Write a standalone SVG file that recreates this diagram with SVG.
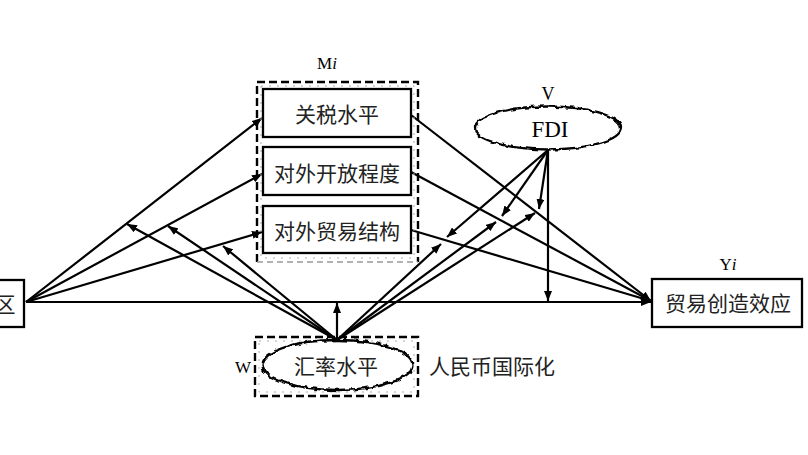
<svg xmlns="http://www.w3.org/2000/svg" width="808" height="455" viewBox="0 0 808 455">
<style>
.box{fill:#fff;stroke:#000;stroke-width:2.3}
.cn{font-family:"Noto Sans CJK SC","Noto Sans",sans-serif;font-size:21px;fill:#222;text-anchor:middle;dominant-baseline:central}
.lat{font-family:"Liberation Serif","Times New Roman",serif;fill:#000;text-anchor:middle}
.ln{stroke:#000;stroke-width:2.2;fill:none}
.dash{stroke:#000;stroke-width:2.4;fill:none;stroke-dasharray:8 4}
.gdot{stroke:#aaa;stroke-width:1;fill:none;stroke-dasharray:2 6}
.gdash{stroke:#999;stroke-width:1.5;fill:none;stroke-dasharray:6 4}
.ell{fill:#fff;stroke:#000;stroke-width:2.3}
</style>
<defs>
<marker id="ah" markerUnits="userSpaceOnUse" markerWidth="10" markerHeight="8" refX="10" refY="4" orient="auto">
<path d="M0,0 L10,4 L0,8 Z" fill="#000"/>
</marker>
<filter id="wavy" x="-10%" y="-30%" width="120%" height="160%">
<feTurbulence type="fractalNoise" baseFrequency="0.2" numOctaves="1" seed="3" result="n"/>
<feDisplacementMap in="SourceGraphic" in2="n" scale="5" xChannelSelector="R" yChannelSelector="G"/>
</filter>
</defs>
<rect width="808" height="455" fill="#fff"/>

<g id="connectors">
<line class="ln" x1="26" y1="302" x2="262" y2="118" marker-end="url(#ah)"/>
<line class="ln" x1="26" y1="302" x2="262" y2="174" marker-end="url(#ah)"/>
<line class="ln" x1="26" y1="302" x2="262" y2="232" marker-end="url(#ah)"/>
<line class="ln" x1="26" y1="302" x2="651" y2="302" marker-end="url(#ah)"/>
<line class="ln" x1="411" y1="115" x2="651" y2="301" marker-end="url(#ah)"/>
<line class="ln" x1="411" y1="172" x2="651" y2="301" marker-end="url(#ah)"/>
<line class="ln" x1="411" y1="230" x2="651" y2="301" marker-end="url(#ah)"/>
<line class="ln" x1="337" y1="340" x2="127" y2="224" marker-end="url(#ah)"/>
<line class="ln" x1="337" y1="340" x2="168" y2="226" marker-end="url(#ah)"/>
<line class="ln" x1="337" y1="340" x2="223" y2="246" marker-end="url(#ah)"/>
<line class="ln" x1="337" y1="340" x2="441" y2="244" marker-end="url(#ah)"/>
<line class="ln" x1="337" y1="340" x2="496" y2="222" marker-end="url(#ah)"/>
<line class="ln" x1="337" y1="340" x2="535" y2="213" marker-end="url(#ah)"/>
<line class="ln" x1="337" y1="340" x2="337" y2="303" marker-end="url(#ah)"/>
<line class="ln" x1="548" y1="150" x2="447" y2="237" marker-end="url(#ah)"/>
<line class="ln" x1="548" y1="150" x2="502" y2="216" marker-end="url(#ah)"/>
<line class="ln" x1="548" y1="150" x2="539" y2="209" marker-end="url(#ah)"/>
<line class="ln" x1="548" y1="150" x2="548" y2="301" marker-end="url(#ah)"/>
</g>

<g id="node-left">
<rect class="box" x="-3" y="280" width="27" height="47"/>
<text class="cn" x="5" y="303">区</text>
</g>

<g id="group-Mi">
<rect class="gdot" x="261" y="86" width="153" height="172"/>
<path class="dash" d="M257,262 V82 H418 V262"/>
<line class="gdash" x1="257" y1="262" x2="418" y2="262"/>
<text class="lat" x="327" y="69" font-size="17">M<tspan font-style="italic">i</tspan></text>
</g>

<g id="node-m1">
<rect class="box" x="263" y="89" width="148" height="48"/>
<text class="cn" x="337" y="113">关税水平</text>
</g>
<g id="node-m2">
<rect class="box" x="263" y="147" width="148" height="48"/>
<text class="cn" x="337" y="172">对外开放程度</text>
</g>
<g id="node-m3">
<rect class="box" x="263" y="206" width="148" height="47"/>
<text class="cn" x="337" y="230">对外贸易结构</text>
</g>

<g id="node-fdi">
<ellipse class="ell" cx="548" cy="128" rx="73" ry="21.5" filter="url(#wavy)"/>
<text class="lat" x="550" y="137" font-size="23">FDI</text>
<text class="lat" x="548" y="100" font-size="18">V</text>
</g>

<g id="node-w">
<rect class="gdot" x="259" y="341" width="155" height="51"/>
<rect class="dash" x="255" y="337" width="163" height="59"/>
<ellipse class="ell" cx="337.5" cy="365" rx="75" ry="25" filter="url(#wavy)"/>
<text class="cn" x="336" y="365">汇率水平</text>
<text class="lat" x="243" y="373" font-size="17">W</text>
</g>

<g id="label-rmb">
<text class="cn" x="492" y="365">人民币国际化</text>
</g>

<g id="node-y">
<rect class="box" x="652" y="279" width="150" height="48"/>
<text class="cn" x="728" y="302">贸易创造效应</text>
<text class="lat" x="728" y="270" font-size="17">Y<tspan font-style="italic">i</tspan></text>
</g>
</svg>
